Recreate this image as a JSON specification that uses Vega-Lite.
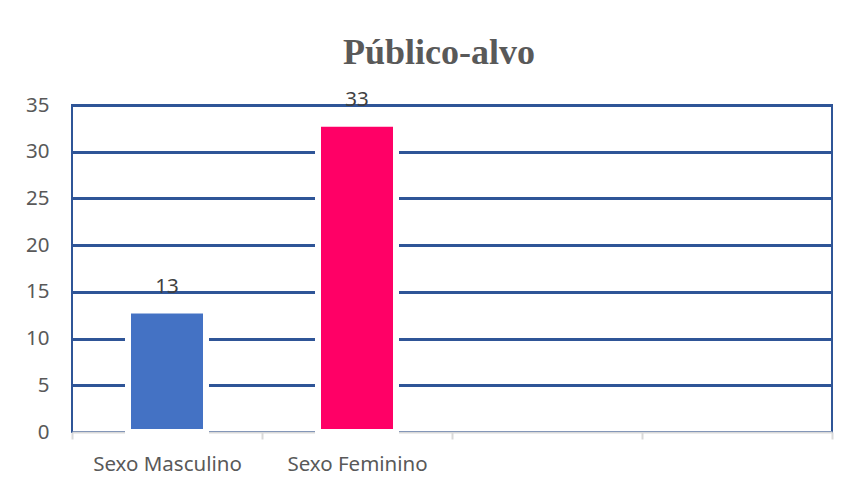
{
  "$schema": "https://vega.github.io/schema/vega-lite/v6.json",
  "width": 760,
  "height": 327,
  "autosize": {"type": "none"},
  "padding": {"left": 72, "top": 105, "right": 17, "bottom": 54},
  "background": "white",
  "title": {
    "text": "Público-alvo",
    "font": "Liberation Serif",
    "fontSize": 36,
    "fontWeight": "bold",
    "color": "#595959",
    "anchor": "middle",
    "dx": -13,
    "offset": 18
  },
  "config": {
    "view": {"stroke": "#2F5597", "strokeWidth": 2},
    "font": "Noto Sans"
  },
  "data": {
    "values": [
      {"categoria": "Sexo Masculino", "valor": 13},
      {"categoria": "Sexo Feminino", "valor": 33}
    ]
  },
  "encoding": {
    "x": {
      "field": "categoria",
      "type": "nominal",
      "sort": null,
      "scale": {
        "domain": ["Sexo Masculino", "Sexo Feminino", "c3", "c4"],
        "paddingInner": 0,
        "paddingOuter": 0
      },
      "axis": {
        "title": null,
        "labelAngle": 0,
        "labelExpr": "indexof(['c3','c4'], datum.value) >= 0 ? '' : datum.value",
        "labelFont": "Noto Sans",
        "labelFontSize": 20.5,
        "labelColor": "#595959",
        "labelPadding": 15,
        "domainColor": "#D9D9D9",
        "domainWidth": 2,
        "tickBand": "extent",
        "tickColor": "#D9D9D9",
        "tickWidth": 2,
        "tickSize": 7,
        "grid": false
      }
    },
    "y": {
      "field": "valor",
      "type": "quantitative",
      "scale": {"domain": [0, 35], "nice": false},
      "axis": {
        "title": null,
        "values": [0, 5, 10, 15, 20, 25, 30, 35],
        "labelFont": "Noto Sans",
        "labelFontSize": 20.5,
        "labelColor": "#595959",
        "labelPadding": 23,
        "ticks": false,
        "domain": false,
        "grid": true,
        "gridColor": {"condition": {"test": "datum.value === 0", "value": "transparent"}, "value": "#2F5597"},
        "gridWidth": 3
      }
    }
  },
  "layer": [
    {
      "mark": {"type": "bar", "stroke": "white", "strokeWidth": 6, "width": {"band": 0.4105}},
      "encoding": {
        "color": {
          "field": "categoria",
          "type": "nominal",
          "scale": {"domain": ["Sexo Masculino", "Sexo Feminino"], "range": ["#4472C4", "#FF0066"]},
          "legend": null
        }
      }
    },
    {
      "mark": {"type": "text", "baseline": "alphabetic", "dy": -18, "fontSize": 20.5, "color": "#404040", "font": "Noto Sans"},
      "encoding": {
        "text": {"field": "valor", "type": "quantitative"}
      }
    }
  ]
}
